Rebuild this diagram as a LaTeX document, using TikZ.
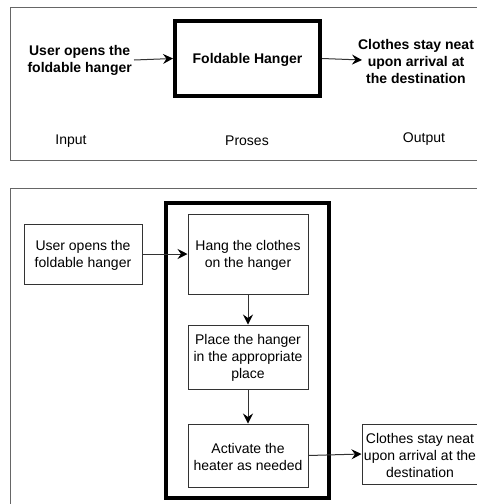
\documentclass[tikz,border=0pt]{standalone}
\usepackage{fontspec}
\setmainfont{Liberation Sans}
\usetikzlibrary{arrows.meta}
\begin{document}
\begin{tikzpicture}[x=1pt,y=-1pt,
  panel/.style={draw=black!60,line width=1pt},
  thick box/.style={draw=black,line width=4pt},
  stepbox/.style={draw=black!80,line width=1pt,align=center,inner sep=0pt},
  txt/.style={align=center,inner sep=0pt,font=\fontsize{14}{17}\selectfont},
  btxt/.style={align=center,inner sep=0pt,font=\fontsize{14}{17}\selectfont\bfseries},
  arr/.style={draw=black!80,line width=1pt,-{Stealth[length=10pt,width=10pt,inset=3.5pt,color=black]}}
]
\useasboundingbox (0,0) rectangle (477,504);
\clip (0,0) rectangle (477,504);
\fill[white] (0,0) rectangle (477,504);
% top panel
\draw[panel] (10,7) rectangle (485,160);
\node[btxt,anchor=east] (in) at (132,60) {User opens the\\foldable hanger};
\node[thick box,minimum width=145pt,minimum height=75pt,inner sep=0pt] (fh) at (247.5,58.5) {};
\node[btxt] at (247.5,60) {Foldable Hanger};
\node[btxt] (out) at (416,61) {Clothes stay neat\\upon arrival at\\the destination};
\coordinate (outw) at (362,60);
\draw[arr] (in.east) ++(2,0) coordinate (ine) -- (fh.west);
\draw[arr] (fh.east) -- (outw);
\node[txt] (l1) at (71,141) {Input};
\node[txt] (l2) at (247,141) {Proses};
\node[txt] (l3) at (424,139) {Output};
% bottom panel
\draw[panel] (10,188) rectangle (485,520);
\node[thick box,minimum width=163pt,minimum height=295pt,inner sep=0pt] (big) at (247.5,350.5) {};
\node[stepbox,minimum width=118pt,minimum height=60pt] (a) at (83,254) {};
\node[txt] at (83,255) {User opens the\\foldable hanger};
\node[stepbox,minimum width=120pt,minimum height=80pt] (b) at (248,254) {};
\node[txt] at (248,255) {Hang the clothes\\on the hanger};
\node[stepbox,minimum width=120pt,minimum height=64pt] (c) at (248,357) {};
\node[txt] at (248,358) {Place the hanger\\in the appropriate\\place};
\node[stepbox,minimum width=120pt,minimum height=63pt] (d) at (248,455.5) {};
\node[txt] at (248,456.5) {Activate the\\heater as needed};
\node[stepbox,minimum width=116pt,minimum height=60pt] (e) at (420,454) {};
\node[txt] at (420,455) {Clothes stay neat\\upon arrival at the\\destination};
\draw[arr] (a.east) -- (b.west);
\draw[arr] (b.south) -- (c.north);
\draw[arr] (c.south) -- (d.north);
\draw[arr] (d.east) -- (e.west);
\end{tikzpicture}
\end{document}
